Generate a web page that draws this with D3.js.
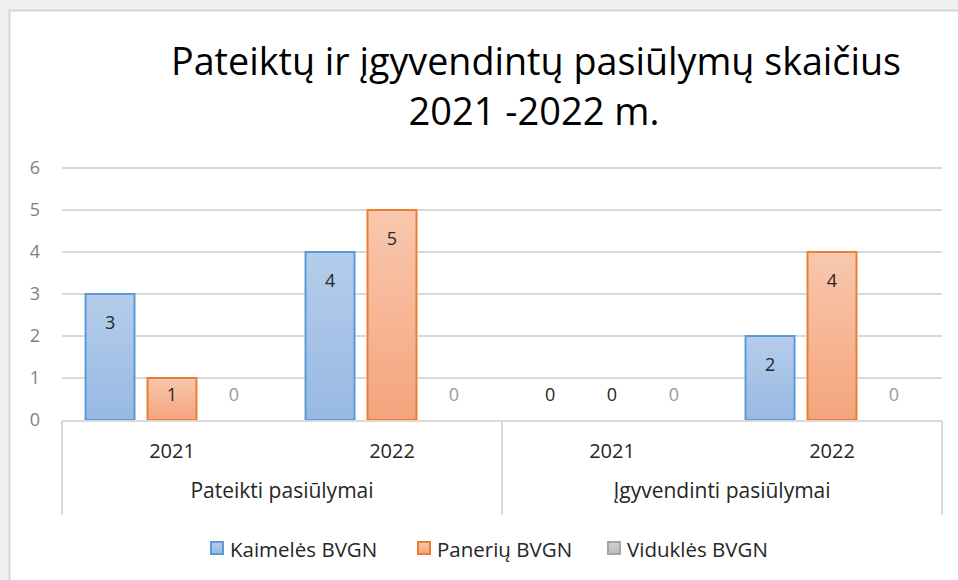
<!DOCTYPE html>
<html>
<head>
<meta charset="utf-8">
<script src="https://cdn.jsdelivr.net/npm/d3@7"></script>
<style>
  html, body { margin: 0; padding: 0; background: #f0f0f0; }
  svg { display: block; font-family: "Open Sans", "Noto Sans", sans-serif; }
</style>
</head>
<body>
<svg id="chart" width="958" height="580"></svg>
<script>
// ---- data ----
const titleLines = ["Pateiktų ir įgyvendintų pasiūlymų skaičius", "2021 -2022 m."];
const groupNames = ["Pateikti pasiūlymai", "Įgyvendinti pasiūlymai"];
const years = ["2021", "2022"];
const seriesNames = ["Kaimelės BVGN", "Panerių BVGN", "Viduklės BVGN"];
const kaimeles = [3, 4, 0, 2];
const paneriai = [1, 5, 0, 4];
const vidukles = [0, 0, 0, 0];
const yTicks = [0, 1, 2, 3, 4, 5, 6];

// ---- derived table ----
const seriesValues = [kaimeles, paneriai, vidukles];
const cats = [];
groupNames.forEach((g, gi) => years.forEach((y, yi) => cats.push({ key: g + "|" + y, group: g, year: y, idx: gi * years.length + yi })));

const styles = [
  { stroke: "#5b9bd5", top: "#b5cdeb", bottom: "#97b9e3", label: "#262626" },
  { stroke: "#ed7d31", top: "#f8c8ae", bottom: "#f4a47c", label: "#262626" },
  { stroke: "#a5a5a5", top: "#d0d0d0", bottom: "#bdbdbd", label: "#9a9a9a" }
];

const svg = d3.select("#chart");

// background panel
svg.append("rect").attr("x", 0).attr("y", 0).attr("width", 958).attr("height", 580).attr("fill", "#f0f0f0");
svg.append("rect").attr("x", 9.5).attr("y", 10.5).attr("width", 960).attr("height", 580)
  .attr("fill", "#ffffff").attr("stroke", "#d4d4d4").attr("stroke-width", 2);

// gradients
const defs = svg.append("defs");
styles.forEach((s, i) => {
  const lg = defs.append("linearGradient").attr("id", "grad" + i).attr("x1", 0).attr("y1", 0).attr("x2", 0).attr("y2", 1);
  lg.append("stop").attr("offset", "0%").attr("stop-color", s.top);
  lg.append("stop").attr("offset", "100%").attr("stop-color", s.bottom);
});

// scales
const x0 = d3.scaleBand().domain(cats.map(c => c.key)).range([62, 942]).padding(0);
const x1 = d3.scaleBand().domain(seriesNames).range([0, x0.bandwidth()]).paddingInner(0.21).paddingOuter(0.38);
const y = d3.scaleLinear().domain([0, 6]).range([420, 168]);
const xg = d3.scaleBand().domain(groupNames).range([62, 942]).padding(0);

// title
svg.append("text").attr("x", 536).attr("y", 75).attr("text-anchor", "middle")
  .attr("font-size", 38).attr("fill", "#000").attr("textLength", 730).attr("lengthAdjust", "spacingAndGlyphs")
  .text(titleLines[0]);
svg.append("text").attr("x", 534).attr("y", 125).attr("text-anchor", "middle")
  .attr("font-size", 38).attr("fill", "#000")
  .text(titleLines[1]);

// gridlines
svg.append("g").selectAll("line").data(yTicks.filter(t => t > 0)).join("line")
  .attr("x1", 62).attr("x2", 942)
  .attr("y1", d => y(d)).attr("y2", d => y(d))
  .attr("stroke", "#d9d9d9").attr("stroke-width", 2);

// y axis labels
const yAxis = d3.axisLeft(y).tickValues(yTicks).tickSize(0).tickPadding(0).tickFormat(d3.format("d"));
const yg = svg.append("g").attr("transform", "translate(40,0)").call(yAxis);
yg.select(".domain").remove();
yg.selectAll("text").attr("font-size", 18).attr("fill", "#7f7f7f").attr("font-family", "'Open Sans', sans-serif");

// bars
const barG = svg.append("g");
seriesNames.forEach((s, si) => {
  const g = barG.append("g");
  g.selectAll("rect").data(cats).join("rect")
    .attr("x", c => x0(c.key) + x1(s))
    .attr("y", c => y(seriesValues[si][c.idx]))
    .attr("width", x1.bandwidth())
    .attr("height", c => y(0) - y(seriesValues[si][c.idx]))
    .attr("fill", "url(#grad" + si + ")")
    .attr("stroke", c => seriesValues[si][c.idx] > 0 ? styles[si].stroke : "none")
    .attr("stroke-width", 2);
  g.selectAll("text").data(cats).join("text")
    .attr("x", c => x0(c.key) + x1(s) + x1.bandwidth() / 2)
    .attr("y", c => Math.min(y(seriesValues[si][c.idx]) + 28, y(0) - 26) + 6.5)
    .attr("text-anchor", "middle")
    .attr("font-size", 18)
    .attr("fill", styles[si].label)
    .text(c => seriesValues[si][c.idx]);
});

// category axis box
const axG = svg.append("g").attr("stroke", "#d9d9d9").attr("stroke-width", 2);
axG.append("line").attr("x1", 62).attr("x2", 942).attr("y1", 421).attr("y2", 421);
const vlines = [xg.range()[0]].concat(groupNames.map(g => xg(g) + xg.bandwidth()));
axG.selectAll(".v").data(vlines).join("line").attr("class", "v")
  .attr("x1", d => d).attr("x2", d => d).attr("y1", 421).attr("y2", 515);

// year labels
svg.append("g").selectAll("text").data(cats).join("text")
  .attr("x", c => x0(c.key) + x0.bandwidth() / 2)
  .attr("y", 458).attr("text-anchor", "middle")
  .attr("font-size", 20).attr("fill", "#262626")
  .text(c => c.year);

// group labels
svg.append("g").selectAll("text").data(groupNames).join("text")
  .attr("x", g => xg(g) + xg.bandwidth() / 2)
  .attr("y", 498).attr("text-anchor", "middle")
  .attr("font-size", 21).attr("fill", "#262626")
  .text(g => g);

// legend
const legendX = [211, 418, 608];
const lg = svg.append("g");
seriesNames.forEach((s, i) => {
  lg.append("rect").attr("x", legendX[i]).attr("y", 542).attr("width", 12).attr("height", 12)
    .attr("fill", "url(#grad" + i + ")").attr("stroke", styles[i].stroke).attr("stroke-width", 2);
  lg.append("text").attr("x", legendX[i] + 19).attr("y", 557)
    .attr("font-size", 20.5).attr("fill", "#262626").text(s);
});
</script>
</body>
</html>
